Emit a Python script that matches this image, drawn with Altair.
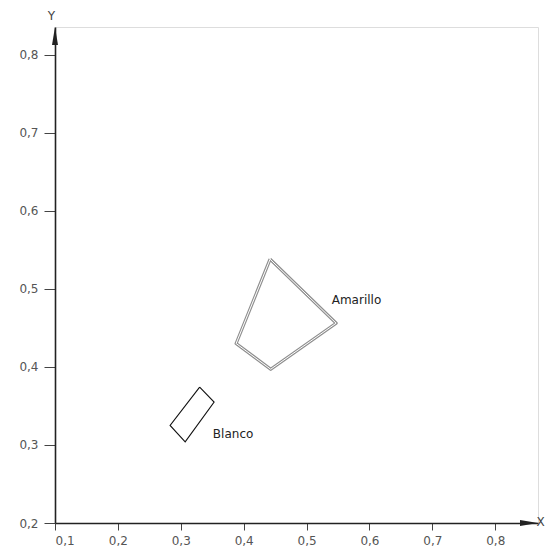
import altair as alt
import pandas as pd

# Shapes (chromaticity-like coordinates)
amarillo_x = [0.442, 0.547, 0.443, 0.388, 0.442]
amarillo_y = [0.538, 0.456, 0.397, 0.430, 0.538]
blanco_x = [0.330, 0.353, 0.307, 0.283, 0.330]
blanco_y = [0.374, 0.355, 0.304, 0.325, 0.374]

label_names = ["Amarillo", "Blanco"]
label_x = [0.540, 0.351]
label_y = [0.486, 0.314]

x_ticks = [0.1, 0.2, 0.3, 0.4, 0.5, 0.6, 0.7, 0.8]
y_ticks = [0.2, 0.3, 0.4, 0.5, 0.6, 0.7, 0.8]
x_min, x_max = 0.1, 0.868
y_min, y_max = 0.2, 0.8355

amar = pd.DataFrame({"x": amarillo_x, "y": amarillo_y, "o": range(len(amarillo_x))})
blan = pd.DataFrame({"x": blanco_x, "y": blanco_y, "o": range(len(blanco_x))})
labels = pd.DataFrame({"name": label_names, "x": label_x, "y": label_y})

FONT = "DejaVu Sans"
xs = alt.Scale(domain=[x_min, x_max], nice=False, zero=False)
ys = alt.Scale(domain=[y_min, y_max], nice=False, zero=False)
lexpr = "replace(format(datum.value, '.1f'), '.', ',')"

x_axis = alt.Axis(values=x_ticks, labelExpr=lexpr, grid=False, domainColor="#222",
                  domainWidth=1.6, tickColor="#444", tickSize=7, tickWidth=1,
                  labelPadding=5, labelFont=FONT, labelFontSize=12, labelColor="#555",
                  title="X", titleFont=FONT, titleFontSize=12, titleFontWeight="normal",
                  titleColor="#444", titleX=485, titleY=-2, titleBaseline="middle",
                  titleAlign="center", titleAngle=0)
y_axis = alt.Axis(values=y_ticks, labelExpr=lexpr, grid=False, domainColor="#222",
                  domainWidth=1.6, tickColor="#444", tickSize=11, tickWidth=1,
                  labelPadding=6, labelFont=FONT, labelFontSize=12, labelColor="#555",
                  title="Y", titleFont=FONT, titleFontSize=12, titleFontWeight="normal",
                  titleColor="#444", titleX=-4, titleY=-12, titleBaseline="middle",
                  titleAlign="center", titleAngle=0)

amar_outer = alt.Chart(amar).mark_line(color="#8f8f8f", strokeWidth=3.2, strokeJoin="round").encode(
    x=alt.X("x:Q", scale=xs, axis=x_axis),
    y=alt.Y("y:Q", scale=ys, axis=y_axis),
    order="o:Q",
)
amar_inner = alt.Chart(amar).mark_line(color="white", strokeWidth=1.0, strokeJoin="round").encode(
    x=alt.X("x:Q", scale=xs), y=alt.Y("y:Q", scale=ys), order="o:Q"
)
blan_line = alt.Chart(blan).mark_line(color="#111", strokeWidth=1.1).encode(
    x=alt.X("x:Q", scale=xs), y=alt.Y("y:Q", scale=ys), order="o:Q"
)
texts = alt.Chart(labels).mark_text(align="left", baseline="middle", font=FONT,
                                    fontSize=12, color="#222").encode(
    x=alt.X("x:Q", scale=xs), y=alt.Y("y:Q", scale=ys), text="name:N"
)

arrow_x = alt.Chart(pd.DataFrame({"x": [x_max], "y": [y_min]})).mark_point(
    shape="M0,0L-3,-0.5L-3,0.5Z", size=144, filled=True, color="#222", opacity=1
).encode(x=alt.X("x:Q", scale=xs), y=alt.Y("y:Q", scale=ys))
arrow_y = alt.Chart(pd.DataFrame({"x": [x_min], "y": [y_max]})).mark_point(
    shape="M0,0L-0.5,3L0.5,3Z", size=144, filled=True, color="#222", opacity=1
).encode(x=alt.X("x:Q", scale=xs), y=alt.Y("y:Q", scale=ys))

chart = alt.layer(amar_outer, amar_inner, blan_line, texts, arrow_x, arrow_y).properties(
    width=483, height=496,
    autosize=alt.AutoSizeParams(type="none"),
    padding={"left": 47, "top": 19, "right": 9, "bottom": 27},
).configure_view(stroke="transparent", strokeWidth=0).configure(background="white")

chart.save("out.html", embed_options={"renderer": "svg", "actions": False})
